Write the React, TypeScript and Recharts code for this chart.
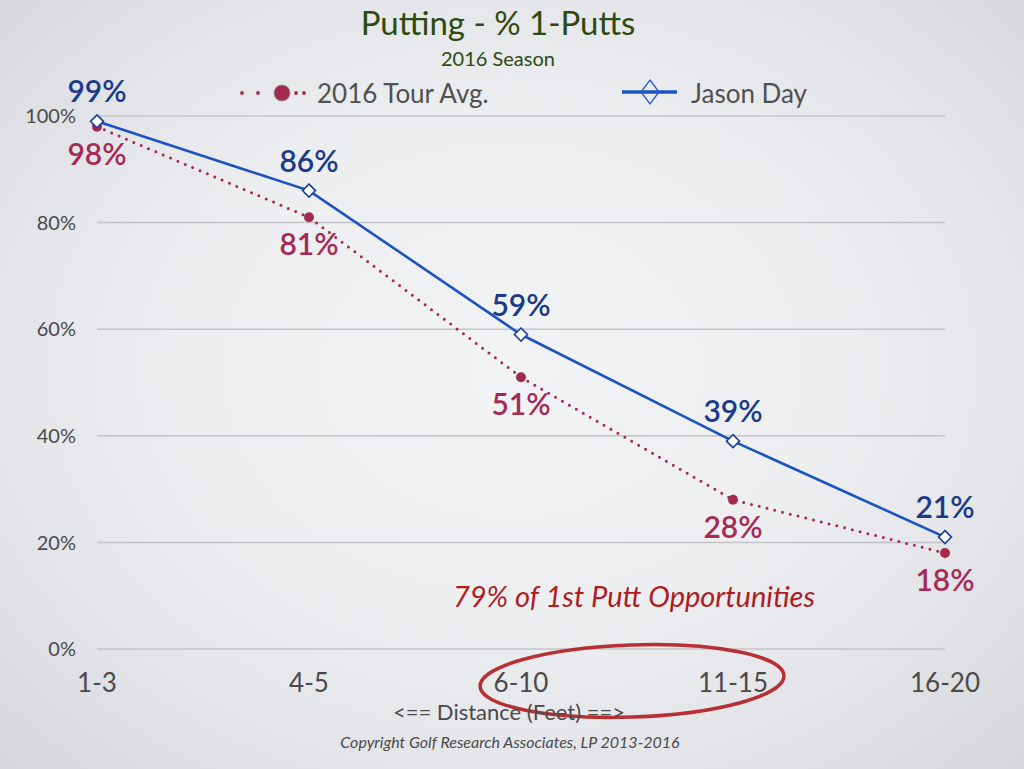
import React from 'react';
import { LineChart, Line, XAxis, YAxis, CartesianGrid, Legend, LabelList } from 'recharts';

// Share of putts holed in one stroke, by distance band (feet)
const distances = ['1-3', '4-5', '6-10', '11-15', '16-20'];
const tourAvg = [98, 81, 51, 28, 18];
const jasonDay = [99, 86, 59, 39, 21];
const yTicks = [0, 20, 40, 60, 80, 100];

const data = distances.map((d, i) => ({ distance: d, tour: tourAvg[i], jason: jasonDay[i] }));

const FONT = 'Lato, "Open Sans", sans-serif';
const TOUR_COLOR = '#a3294f';
const TOUR_LABEL = '#a52a55';
const JASON_COLOR = '#1d52c2';
const JASON_LABEL = '#1b3a8a';
const TEXT_GRAY = '#505052';

// The legend strip is 40px tall and sits above the plot, so the plot's top margin is reduced by that much.
const LEGEND_HEIGHT = 40;

const JasonDot = (props: any) => {
  const { cx, cy, index } = props;
  if (cx == null || cy == null) return null;
  const h = 6.5;
  return (
    <polygon
      key={`jd-${index}`}
      points={`${cx},${cy - h} ${cx + h},${cy} ${cx},${cy + h} ${cx - h},${cy}`}
      fill="#ffffff"
      stroke="#1c3f98"
      strokeWidth={1.6}
    />
  );
};

const TourLabel = (props: any) => {
  const { x, y, value } = props;
  return (
    <text x={x} y={y + 38} textAnchor="middle" fontFamily={FONT} fontSize={30} fontWeight={600} fill={TOUR_LABEL}>
      {`${value}%`}
    </text>
  );
};

const JasonLabel = (props: any) => {
  const { x, y, value } = props;
  return (
    <text x={x} y={y - 19} textAnchor="middle" fontFamily={FONT} fontSize={30} fontWeight={600} fill={JASON_LABEL}>
      {`${value}%`}
    </text>
  );
};

const renderLegend = (props: any) => {
  const payload: any[] = props.payload || [];
  const tour = payload.find((p) => p.dataKey === 'tour');
  const jason = payload.find((p) => p.dataKey === 'jason');
  return (
    <svg width={1024} height={LEGEND_HEIGHT} style={{ display: 'block', overflow: 'visible' }}>
      <g transform="translate(0,-75)">
        <circle cx={242} cy={93} r={1.9} fill={TOUR_COLOR} />
        <circle cx={258} cy={93} r={1.9} fill={TOUR_COLOR} />
        <circle cx={296} cy={93} r={1.9} fill={TOUR_COLOR} />
        <circle cx={304} cy={93} r={1.9} fill={TOUR_COLOR} />
        <circle cx={282} cy={93} r={8} fill={TOUR_COLOR} stroke="#8d8d90" strokeWidth={1} />
        <text x={317} y={103} fontFamily={FONT} fontSize={26} fill={TEXT_GRAY}>
          {tour ? tour.value : ''}
        </text>
        <line x1={622} y1={92} x2={677} y2={92} stroke={JASON_COLOR} strokeWidth={3.5} />
        <polygon points="650,80 659,92 650,104 641,92" fill="none" stroke="#2a5cc4" strokeWidth={1.3} />
        <text x={691} y={103} fontFamily={FONT} fontSize={26} fill={TEXT_GRAY}>
          {jason ? jason.value : ''}
        </text>
      </g>
    </svg>
  );
};

export default function App() {
  return (
    <div
      style={{
        position: 'absolute',
        top: 0,
        left: 0,
        width: 1024,
        height: 769,
        overflow: 'hidden',
        fontFamily: FONT,
        background:
          'radial-gradient(ellipse at 50% 48%, #f2f3f5 0%, #eceef0 45%, #e2e3e6 75%, #d6d7db 100%)',
      }}
    >
      <LineChart
        width={1024}
        height={769}
        data={data}
        margin={{ top: 116 - LEGEND_HEIGHT, right: 79, bottom: 0, left: 0 }}
        style={{ position: 'absolute', top: 0, left: 0 }}
      >
        <CartesianGrid vertical={false} stroke="#c3c4c8" strokeWidth={1.5} />
        <XAxis
          dataKey="distance"
          height={120}
          axisLine={false}
          tickLine={false}
          tickSize={0}
          tickMargin={25}
          tick={{ fontFamily: FONT, fontSize: 26, fill: '#4a4a4c' }}
          interval={0}
        />
        <YAxis
          domain={[0, 100]}
          ticks={yTicks}
          width={97}
          axisLine={false}
          tickLine={false}
          tickSize={0}
          tickMargin={21}
          tickFormatter={(v: number) => `${v}%`}
          tick={{ fontFamily: FONT, fontSize: 20, fill: '#4a4a4c' }}
        />
        <Legend
          verticalAlign="top"
          content={renderLegend}
          wrapperStyle={{ position: 'absolute', top: 75, left: 0, width: 1024, height: LEGEND_HEIGHT, margin: 0, padding: 0 }}
        />
        <Line
          dataKey="tour"
          name="2016 Tour Avg."
          stroke={TOUR_COLOR}
          strokeWidth={3}
          strokeDasharray="0 8"
          strokeLinecap="round"
          dot={{ r: 5, fill: TOUR_COLOR, stroke: '#8d8d90', strokeWidth: 1 }}
          activeDot={false}
          isAnimationActive={false}
        >
          <LabelList dataKey="tour" content={TourLabel} />
        </Line>
        <Line
          dataKey="jason"
          name="Jason Day"
          stroke={JASON_COLOR}
          strokeWidth={2.6}
          dot={JasonDot}
          activeDot={false}
          isAnimationActive={false}
        >
          <LabelList dataKey="jason" content={JasonLabel} />
        </Line>
      </LineChart>

      <svg
        width={1024}
        height={769}
        style={{ position: 'absolute', top: 0, left: 0, pointerEvents: 'none' }}
      >
        <text x={498} y={35} textAnchor="middle" fontFamily={FONT} fontSize={33} fill="#2d4a10">
          Putting - % 1-Putts
        </text>
        <text x={498} y={66} textAnchor="middle" fontFamily={FONT} fontSize={20} fill="#2d4a10">
          2016 Season
        </text>
        <text
          x={634}
          y={607}
          textAnchor="middle"
          fontFamily={FONT}
          fontStyle="italic"
          fontSize={29}
          fill="#b01c1f"
        >
          79% of 1st Putt Opportunities
        </text>
        <ellipse
          cx={632}
          cy={681}
          rx={152}
          ry={36}
          fill="none"
          stroke="#b32024"
          strokeWidth={3.5}
          opacity={0.92}
          transform="rotate(-2 632 681)"
        />
        <text x={509} y={720} textAnchor="middle" fontFamily={FONT} fontSize={22} fill="#4a4a4c">
          {'<== Distance (Feet) ==>'}
        </text>
        <text
          x={510}
          y={748}
          textAnchor="middle"
          fontFamily={FONT}
          fontStyle="italic"
          fontSize={16}
          fill="#4a4a4c"
        >
          Copyright Golf Research Associates, LP 2013-2016
        </text>
      </svg>
    </div>
  );
}
